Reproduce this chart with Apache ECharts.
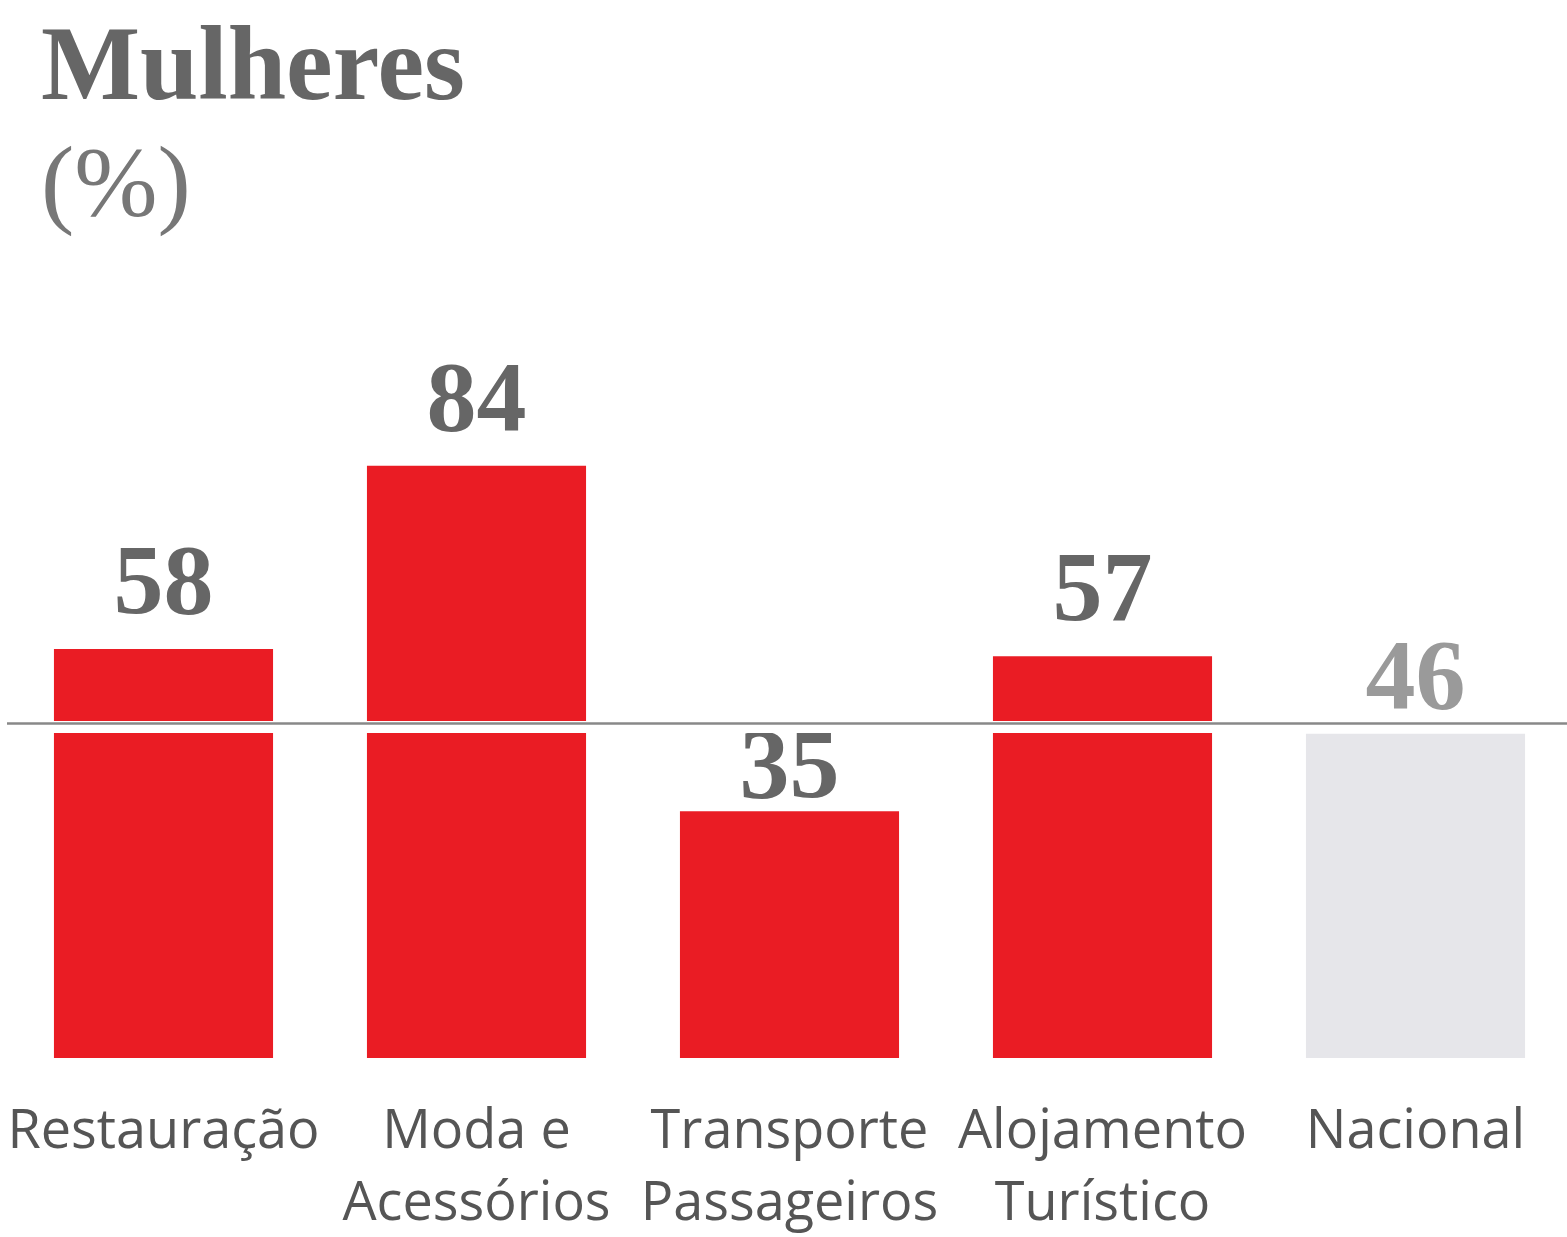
<!DOCTYPE html>
<html>
<head>
<meta charset="utf-8">
<script src="https://cdn.jsdelivr.net/npm/echarts@6/dist/echarts.min.js"></script>
<style>
  html, body { margin: 0; padding: 0; background: #fff; }
  #chart { width: 1567px; height: 1237px; }
</style>
</head>
<body>
<div id="chart"></div>
<script>
// dados do gráfico
const categories = ['Restauração', 'Moda e\nAcessórios', 'Transporte\nPassageiros', 'Alojamento\nTurístico', 'Nacional']
const values = [58, 84, 35, 57, 46]
const nationalIndex = 4
// linha de referência (nível nacional, como desenhada no original)
const refLineValue = 47.5
const refGapValue = 47.05

const RED = '#ea1c24'
const GREY_BAR = '#e6e6ea'

// distância do rótulo ao topo da barra (o 35 fica abaixo da linha)
const labelDistance = [12, 12, -10, 12, 2]

const chart = echarts.init(document.getElementById('chart'))

const barData = values.map((v, i) => {
    const isNat = i === nationalIndex
    return {
        value: v,
        itemStyle: { color: isNat ? GREY_BAR : RED },
        label: {
            color: isNat ? '#9a9a9a' : '#666',
            distance: labelDistance[i]
        }
    }
})

const option = {
    backgroundColor: '#fff',
    animation: false,
    title: [
        {
            text: 'Mulheres',
            left: 36,
            top: 14,
            textStyle: {
                fontFamily: 'Liberation Serif',
                fontWeight: 'bold',
                fontSize: 105,
                color: '#666'
            }
        },
        {
            text: '(%)',
            left: 36,
            top: 134,
            textStyle: {
                fontFamily: 'Liberation Serif',
                fontWeight: 'normal',
                fontSize: 100,
                color: '#777'
            }
        }
    ],
    grid: {
        left: 7,
        width: 1565,
        top: 353,
        bottom: 179,
        containLabel: false,
        outerBoundsMode: 'none'
    },
    xAxis: {
        type: 'category',
        data: categories,
        axisLine: { show: false },
        axisTick: { show: false },
        axisLabel: {
            interval: 0,
            margin: 39,
            fontFamily: 'Open Sans',
            fontSize: 54,
            lineHeight: 72,
            color: '#555'
        }
    },
    yAxis: {
        type: 'value',
        min: 0,
        max: 100,
        show: false,
        splitLine: { show: false }
    },
    series: [
        {
            type: 'bar',
            data: barData,
            barWidth: '70%',
            label: {
                show: true,
                position: 'top',
                fontFamily: 'Liberation Serif',
                fontWeight: 'bold',
                fontSize: 100
            },
            markLine: {
                silent: true,
                symbol: 'none',
                label: { show: false },
                data: [
                    { yAxis: refGapValue, lineStyle: { color: '#fff', width: 12, type: 'solid' } },
                    { yAxis: refLineValue, lineStyle: { color: '#888', width: 2.5, type: 'solid' } }
                ]
            }
        }
    ]
}

chart.setOption(option)
</script>
</body>
</html>
